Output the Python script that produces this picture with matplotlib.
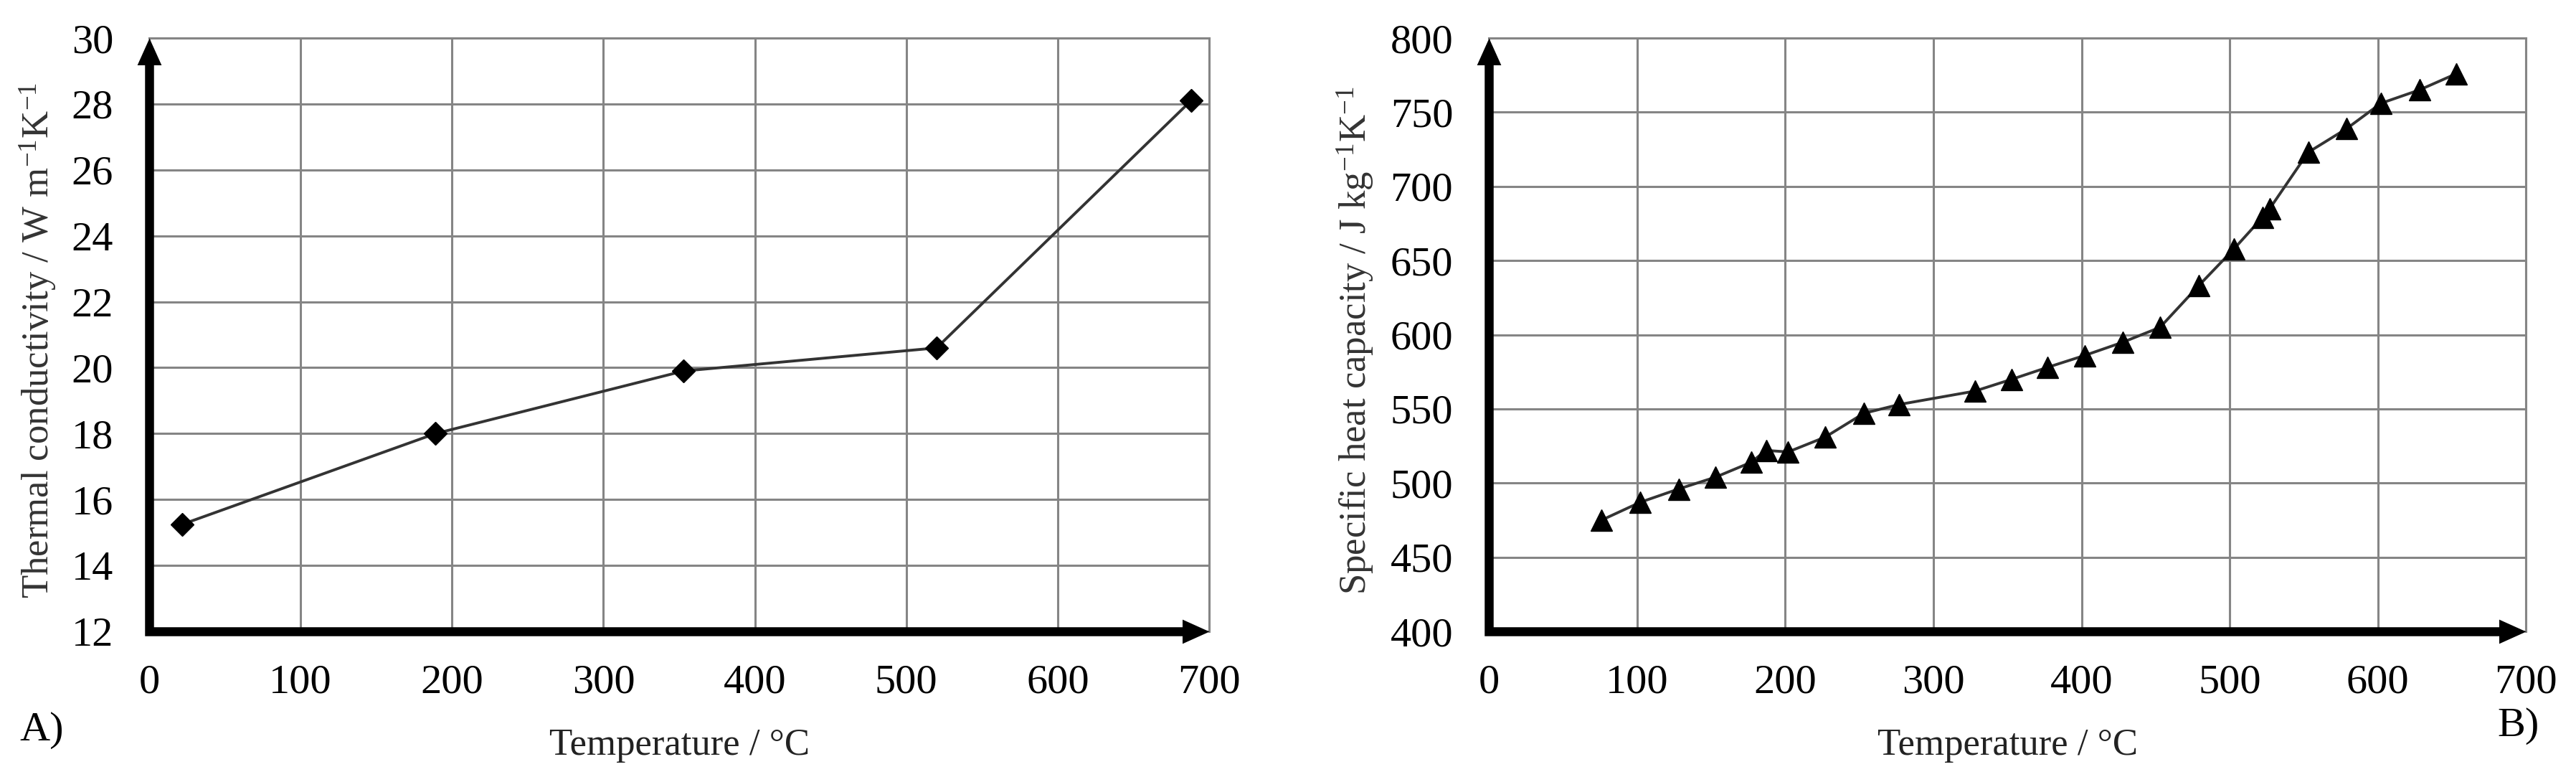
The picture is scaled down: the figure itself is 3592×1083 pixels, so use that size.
import numpy as np
import matplotlib.pyplot as plt
from matplotlib.path import Path

plt.rcParams['font.family'] = ['Liberation Serif', 'DejaVu Serif']
plt.rcParams['mathtext.fontset'] = 'custom'
plt.rcParams['mathtext.rm'] = 'Liberation Serif'
plt.rcParams['mathtext.it'] = 'Liberation Serif:italic'

# A) thermal conductivity
temp_a = [22, 189, 353, 520, 688]
lambda_a = [15.25, 18.0, 19.9, 20.6, 28.1]

# B) specific heat capacity
temp_b = [76, 102, 128, 153, 177, 187, 202, 227, 253, 277, 328, 353, 377,
          402, 428, 453, 479, 503, 522, 527, 553, 579, 602, 628, 653]
cp_b = [475, 487, 496, 504, 514, 522, 521, 531, 547, 553, 562, 570, 578,
        586, 595, 605, 633, 658, 679, 685, 723, 739, 756, 765, 776]

xticks = list(range(0, 701, 100))
yticks_a = list(range(12, 31, 2))
yticks_b = list(range(400, 801, 50))

grid_col = '#858585'

# arrow heads as custom markers, tip sits on the point
head_up = Path([(0, 0), (-0.45, -1), (0.45, -1), (0, 0)],
               [Path.MOVETO, Path.LINETO, Path.LINETO, Path.CLOSEPOLY])
head_right = Path([(0, 0), (-1, -0.45), (-1, 0.45), (0, 0)],
                  [Path.MOVETO, Path.LINETO, Path.LINETO, Path.CLOSEPOLY])


def setup(ax, yticks, ylabel, ylab_x):
    ax.set_xlim(xticks[0], xticks[-1])
    ax.set_ylim(yticks[0], yticks[-1])
    ax.set_xticks(xticks)
    ax.set_yticks(yticks)
    ax.grid(True, color=grid_col, lw=2.2)
    ax.set_axisbelow(True)
    for s in ['left', 'bottom']:
        ax.spines[s].set_visible(False)
    for s in ['top', 'right']:
        ax.spines[s].set_color(grid_col)
        ax.spines[s].set_linewidth(2.2)
    ax.tick_params(axis='both', length=0, labelsize=42)
    ax.tick_params(axis='y', pad=36)
    ax.tick_params(axis='x', pad=33)

    # axis arrows
    bb = ax.get_position()
    w_px = bb.width * fig.get_figwidth() * fig.dpi
    h_px = bb.height * fig.get_figheight() * fig.dpi
    ax.plot([0, 0, 1 - 30 / w_px], [1 - 30 / h_px, 0, 0], color='k', lw=9,
            transform=ax.transAxes, clip_on=False, solid_joinstyle='miter',
            solid_capstyle='butt', zorder=5)
    ax.plot([0], [1], marker=head_up, ms=54, color='k', mew=0,
            transform=ax.transAxes, clip_on=False, zorder=6)
    ax.plot([1], [0], marker=head_right, ms=54, color='k', mew=0,
            transform=ax.transAxes, clip_on=False, zorder=6)

    ax.set_ylabel(ylabel, fontsize=38, color='#333333')
    ax.yaxis.set_label_coords(ylab_x, 0.49)
    ax.set_xlabel('Temperature / °C', fontsize=38, color='#222222')
    ax.xaxis.set_label_coords(0.5, -0.163)


fig = plt.figure(figsize=(35.92, 10.83), dpi=100)
ax1 = fig.add_axes([0.0579, 0.1874, 0.4115, 0.7636])
ax2 = fig.add_axes([0.578, 0.1874, 0.4026, 0.7636])

ax1.plot(temp_a, lambda_a, color='#333333', lw=2.8, marker='D', ms=16,
         mfc='k', mec='k', zorder=4)
setup(ax1, yticks_a,
      'Thermal conductivity / W m$^{\\mathregular{-1}}$K$^{\\mathregular{-1}}$',
      -0.085)

ax2.plot(temp_b, cp_b, color='#333333', lw=2.8, marker='^', ms=21,
         mfc='k', mec='k', zorder=4)
setup(ax2, yticks_b,
      'Specific heat capacity / J kg$^{\\mathregular{-1}}$K$^{\\mathregular{-1}}$',
      -0.109)

fig.text(27 / 3592, 1 - 1018 / 1083, 'A)', fontsize=42, va='center', ha='left')
fig.text(3482 / 3592, 1 - 1012 / 1083, 'B)', fontsize=42, va='center', ha='left')

fig.savefig('out.png', dpi=100)
